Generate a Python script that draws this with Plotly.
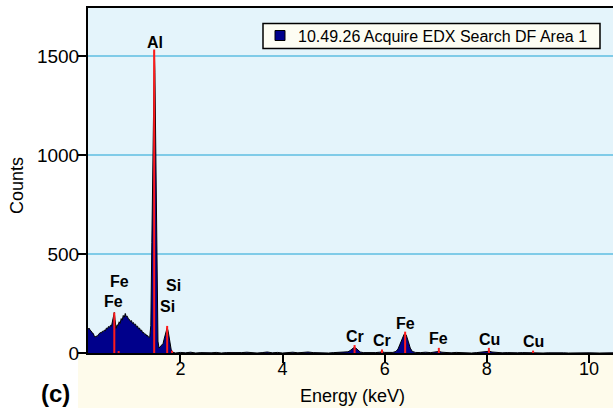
import plotly.graph_objects as go

# ---- spectrum data (keV, counts) ----
energy = [0.19, 0.21, 0.23, 0.25, 0.27, 0.29, 0.31, 0.33, 0.35, 0.37, 0.39, 0.41, 0.43, 0.45,
          0.47, 0.49, 0.51, 0.53, 0.55, 0.57, 0.59, 0.61, 0.63, 0.65, 0.67, 0.69, 0.705, 0.72,
          0.74, 0.76, 0.78, 0.80, 0.82, 0.84, 0.86, 0.88, 0.90, 0.92, 0.94, 0.96, 0.98, 1.00,
          1.02, 1.04, 1.06, 1.08, 1.10, 1.12, 1.14, 1.16, 1.18, 1.20, 1.22, 1.24, 1.26, 1.28,
          1.30, 1.32, 1.34, 1.36, 1.38, 1.40, 1.42, 1.44, 1.46, 1.48, 1.49, 1.50, 1.52, 1.53,
          1.545, 1.56, 1.58, 1.60, 1.62, 1.64, 1.66, 1.68, 1.70, 1.72, 1.74, 1.76, 1.78, 1.80,
          1.82, 1.84, 1.86, 1.88, 1.9, 2.0, 2.1, 2.2, 2.3, 2.4, 2.5, 2.6, 2.7, 2.8, 2.9, 3.0,
          3.1, 3.2, 3.3, 3.4, 3.5, 3.6, 3.7, 3.8, 3.9, 4.0, 4.1, 4.2, 4.3, 4.4, 4.5, 4.6, 4.7,
          4.8, 4.9, 5.0, 5.1, 5.2, 5.28, 5.32, 5.36, 5.40, 5.44, 5.48, 5.52, 5.58, 5.66, 5.74,
          5.82, 5.90, 5.95, 6.0, 6.08, 6.16, 6.22, 6.26, 6.30, 6.34, 6.38, 6.40, 6.42, 6.46,
          6.50, 6.54, 6.60, 6.7, 6.8, 6.9, 7.0, 7.06, 7.12, 7.2, 7.3, 7.4, 7.5, 7.6, 7.7, 7.8,
          7.9, 8.0, 8.05, 8.1, 8.2, 8.3, 8.4, 8.5, 8.6, 8.7, 8.8, 8.9, 9.0, 9.1, 9.2, 9.3, 9.4,
          9.5, 9.6, 9.7, 9.8, 9.9, 10.0, 10.2, 10.47]
counts = [120, 126, 116, 112, 102, 100, 88, 80, 86, 84, 92, 96, 104, 100,
          110, 108, 116, 112, 126, 122, 134, 130, 140, 136, 160, 195, 205, 168,
          125, 142, 140, 158, 150, 174, 166, 190, 180, 200, 184, 186, 172, 170,
          160, 164, 150, 154, 142, 146, 132, 136, 122, 126, 112, 116, 102, 104,
          94, 96, 86, 88, 78, 82, 140, 560, 1100, 1480, 1530, 1420, 900, 600,
          200, 60, 25, 30, 38, 40, 48, 70, 95, 120, 128, 110, 70, 35,
          15, 5, 2, 0, 0, 3, 1, 4, 0, 2, 0, 1, 3, 0, 2, 1,
          0, 2, 4, 1, 0, 2, 5, 1, 3, 0, 2, 4, 1, 3, 5, 2, 1,
          3, 0, 2, 3, 4, 6, 12, 22, 28, 24, 13, 5, 2, 1, 3,
          2, 4, 6, 3, 2, 3, 8, 20, 45, 75, 95, 97, 92, 60,
          25, 8, 3, 2, 4, 2, 5, 8, 4, 2, 1, 3, 1, 2, 0, 2,
          4, 8, 9, 5, 2, 1, 2, 0, 1, 2, 1, 3, 1, 0, 1, 2, 0,
          1, 0, 1, 2, 0, 1, 0, 1]

# ---- element marker lines ----
line_energy = [0.705, 0.79, 1.486, 1.740, 1.836, 5.41, 5.947, 6.40, 7.06, 8.04, 8.905]
line_height = [205, 10, 1535, 137, 12, 40, 18, 108, 26, 26, 12]

# ---- element labels ----
label_text = ["Al", "Fe", "Fe", "Si", "Si", "Cr", "Cr", "Fe", "Fe", "Cu", "Cu"]
label_x = [1.505, 0.80, 0.69, 1.86, 1.755, 5.42, 5.94, 6.41, 7.05, 8.06, 8.92]
label_y = [1572, 360, 258, 343, 233, 81, 64, 147, 71, 69, 59]

series_name = "10.49.26 Acquire EDX Search DF Area 1"
y_ticks = [0, 500, 1000, 1500]
x_ticks = [2, 4, 6, 8, 10]

FONT = "Arial, Liberation Sans, sans-serif"
NAVY = "#00008b"

# plot area spans x 88..613, y 8..353 of the 613x408 window
L, T, W, H = 88, 8, 613, 408
PW = 525.0
PH = 345.0
B = H - T - PH


def px(xw):
    return (xw - 88) / PW


def py(yw):
    return (353 - yw) / PH


fig = go.Figure()

fig.add_trace(go.Scatter(
    x=energy, y=counts, mode="lines", fill="tozeroy", name=series_name,
    fillcolor=NAVY, line=dict(color="black", width=1),
    showlegend=False, hoverinfo="skip"))

lx, ly = [], []
for e, h in zip(line_energy, line_height):
    lx += [e, e, None]
    ly += [0, h, None]
fig.add_trace(go.Scatter(
    x=lx, y=ly, mode="lines", line=dict(color="#ff1a1a", width=2),
    showlegend=False, hoverinfo="skip"))

for t, x, y in zip(label_text, label_x, label_y):
    fig.add_annotation(x=x, y=y, text="<b>%s</b>" % t, showarrow=False,
                       font=dict(family=FONT, size=16, color="black"),
                       xanchor="center", yanchor="middle")

# legend box (series name with its colour swatch)
fig.add_shape(type="rect", xref="paper", yref="paper",
              x0=px(263), x1=px(600), y0=py(48.5), y1=py(23.5),
              fillcolor="#fdfdf3", line=dict(color="black", width=1.5), layer="above")
fig.add_shape(type="rect", xref="paper", yref="paper",
              x0=px(275), x1=px(285), y0=py(40.5), y1=py(30.5),
              fillcolor=NAVY, line=dict(color="black", width=1), layer="above")
fig.add_annotation(xref="paper", yref="paper", x=px(296), y=py(36),
                   xanchor="left", yanchor="middle", align="left",
                   text=series_name, showarrow=False,
                   font=dict(family=FONT, size=16, color="black"))

# axis titles and panel label
fig.add_annotation(xref="paper", yref="paper", x=px(17), y=py(186),
                   xanchor="center", yanchor="middle",
                   text="Counts", textangle=-90, showarrow=False,
                   font=dict(family=FONT, size=18, color="black"))
fig.add_annotation(xref="paper", yref="paper", x=px(352), y=py(396),
                   xanchor="center", yanchor="middle",
                   text="Energy (keV)", showarrow=False,
                   font=dict(family=FONT, size=18, color="black"))
fig.add_annotation(xref="paper", yref="paper", x=px(55), y=py(394),
                   xanchor="center", yanchor="middle",
                   text="<b>(c)</b>", showarrow=False,
                   font=dict(family=FONT, size=24, color="black"))

# cream strip under the x axis
fig.add_shape(type="rect", xref="paper", yref="paper",
              x0=px(78), x1=1.0, y0=py(410), y1=0,
              fillcolor="#fefbeb", line=dict(width=0), layer="below")

fig.update_layout(
    width=W, height=H,
    margin=dict(l=L, r=0, t=T, b=B, autoexpand=False),
    paper_bgcolor="white", plot_bgcolor="#e4f4fb",
    font=dict(family=FONT, size=18, color="black"),
    showlegend=False,
    xaxis=dict(range=[0.19, 10.47], tickvals=x_ticks, showgrid=False, zeroline=False,
               showline=True, linecolor="black", linewidth=2, mirror=True,
               ticks="outside", ticklen=8, tickwidth=2, tickcolor="black",
               ticklabelstandoff=-10,
               tickfont=dict(family=FONT, size=18, color="black")),
    yaxis=dict(range=[0, 1745], tickvals=y_ticks, showgrid=True, gridcolor="#7fcbe8",
               gridwidth=1.5, zeroline=False,
               showline=True, linecolor="black", linewidth=2,
               ticks="outside", ticklen=8, tickwidth=2, tickcolor="black",
               ticklabelstandoff=-5,
               tickfont=dict(family=FONT, size=19, color="black")),
)

fig.write_html("out.html", config={"displayModeBar": False},
               post_script="document.body.style.margin='0';document.body.style.overflow='hidden';")
